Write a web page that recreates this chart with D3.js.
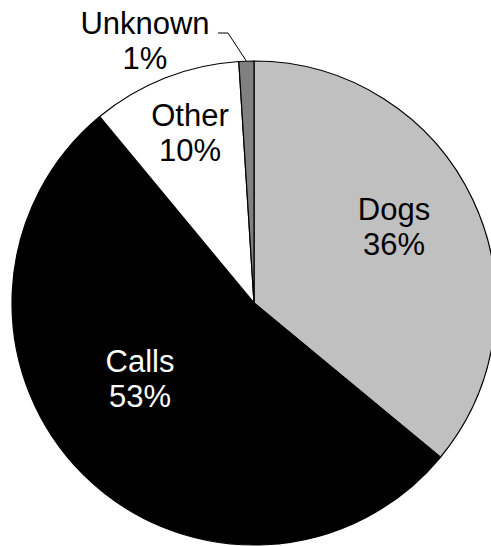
<!DOCTYPE html>
<html>
<head>
<meta charset="utf-8">
<script src="https://cdn.jsdelivr.net/npm/d3@7"></script>
<style>
  html, body { margin: 0; padding: 0; background: #fff; }
  svg { display: block; }
  text { font-family: "Liberation Sans", Arial, sans-serif; font-size: 31px; }
</style>
</head>
<body>
<script>
// Share of incidents by source
const categories = ["Dogs", "Calls", "Other", "Unknown"];
const shares = [36, 53, 10, 1];
const fills = ["#c0c0c0", "#000000", "#ffffff", "#808080"];
const textColors = ["#000", "#fff", "#000", "#000"];
// label anchor (centre x, first baseline) relative to the pie centre
const labelOffsets = [[140, -83], [-114, 69], [-64, -177], [-109, -269]];

const width = 491, height = 546;
const cx = 254, cy = 303, radius = 242;

const svg = d3.select("body").append("svg")
  .attr("width", width).attr("height", height);

const g = svg.append("g").attr("transform", `translate(${cx},${cy})`);

const data = categories.map((c, i) => ({ name: c, value: shares[i], i }));

const pie = d3.pie().value(d => d.value).sort(null);
const arc = d3.arc().innerRadius(0).outerRadius(radius);
const arcs = pie(data);

g.selectAll("path.slice").data(arcs).join("path")
  .attr("class", "slice")
  .attr("d", arc)
  .attr("fill", d => fills[d.data.i])
  .attr("stroke", "#000")
  .attr("stroke-width", 1.2)
  .attr("stroke-linejoin", "round");

// leader line for the small slice
const small = arcs[3];
const edge = d3.arc().innerRadius(radius).outerRadius(radius).centroid(small);
const lo = labelOffsets[3];
g.append("polyline")
  .attr("points", [[lo[0] + 73, lo[1] - 1], [lo[0] + 83, lo[1] - 1], edge].map(p => p.join(",")).join(" "))
  .attr("fill", "none")
  .attr("stroke", "#000")
  .attr("stroke-width", 1);

const labels = g.selectAll("text.lbl").data(arcs).join("text")
  .attr("class", "lbl")
  .attr("text-anchor", "middle")
  .attr("fill", d => textColors[d.data.i])
  .attr("transform", d => `translate(${labelOffsets[d.data.i][0]},${labelOffsets[d.data.i][1]})`);

labels.append("tspan").attr("x", 0).attr("y", 0).text(d => d.data.name);
labels.append("tspan").attr("x", 0).attr("y", 35).text(d => d.data.value + "%");
</script>
</body>
</html>
